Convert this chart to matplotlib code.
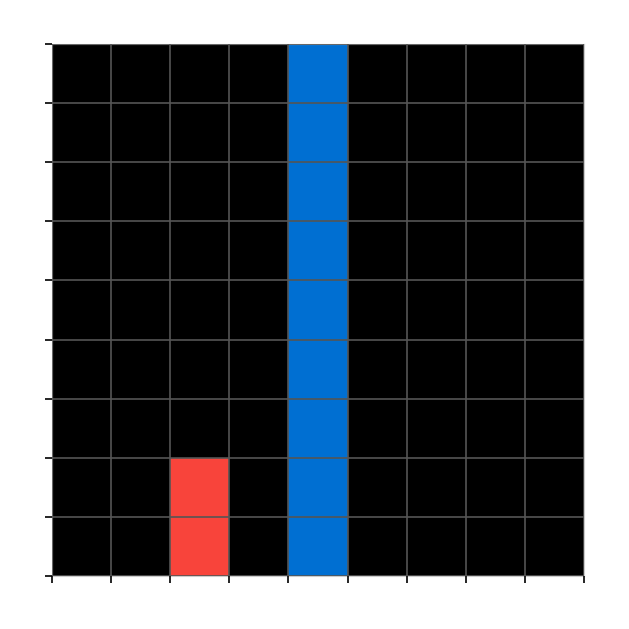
import numpy as np
import matplotlib
matplotlib.use('Agg')
import matplotlib.pyplot as plt

# column positions and heights of the filled cells
columns = [2, 4]
heights = [2, 9]
colors = ['#f8443b', '#006fd2']

n_cells = 9

fig = plt.figure(figsize=(6.29, 6.29), dpi=100)
ax = fig.add_axes([52 / 629, 1 - 576 / 629, 532 / 629, 532 / 629])
ax.set_facecolor('black')

ax.bar(columns, heights, width=1, align='edge', color=colors, linewidth=0)

ax.set_xlim(0, n_cells)
ax.set_ylim(0, n_cells)
ax.set_xticks(np.arange(n_cells + 1))
ax.set_yticks(np.arange(n_cells + 1))
ax.set_xticklabels([])
ax.set_yticklabels([])
ax.tick_params(length=5, width=1.2, color='black')

ax.set_axisbelow(False)
ax.grid(True, color='#555555', linewidth=1.2)

for s in ax.spines.values():
    s.set_color('#cccccc')
    s.set_linewidth(0.8)

fig.savefig('out.png', dpi=100)
